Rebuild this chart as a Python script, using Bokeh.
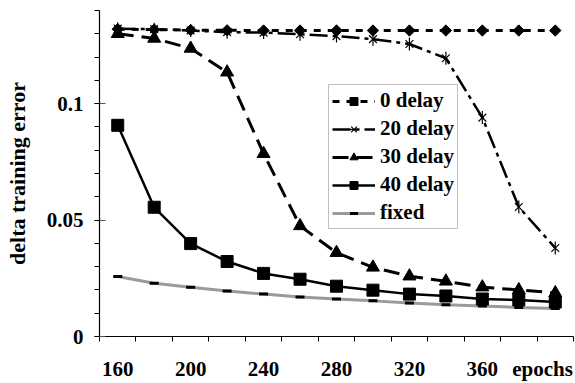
import math
from bokeh.plotting import figure
from bokeh.models import Legend, LegendItem, FixedTicker, Range1d
from bokeh.embed import file_html
from bokeh.resources import INLINE

epochs = [160, 180, 200, 220, 240, 260, 280, 300, 320, 340, 360, 380, 400]
delay0 = [0.132, 0.1318, 0.1316, 0.1315, 0.1314, 0.1314, 0.1314, 0.1314, 0.1314, 0.1314, 0.1314, 0.1314, 0.1314]
delay20 = [0.1322, 0.132, 0.1314, 0.1307, 0.1305, 0.1298, 0.129, 0.1277, 0.1256, 0.1195, 0.094, 0.0556, 0.038]
delay30 = [0.130, 0.128, 0.1237, 0.1135, 0.0785, 0.0475, 0.036, 0.0297, 0.0259, 0.0237, 0.0212, 0.020, 0.0187]
delay40 = [0.0907, 0.0555, 0.0399, 0.0322, 0.0271, 0.0246, 0.0216, 0.0199, 0.0182, 0.0174, 0.0161, 0.0157, 0.0148]
fixed = [0.0258, 0.0229, 0.0212, 0.0195, 0.0182, 0.017, 0.0161, 0.0153, 0.0144, 0.0136, 0.0131, 0.0125, 0.012]

x_label_ticks = [160, 200, 240, 280, 320, 360]
x_title_pos = 393
x_title = "epochs"
x_boundaries = [150 + 20 * i for i in range(14)]
y_label_ticks = [0, 0.05, 0.1]
y_minor = [round(0.01 * i, 2) for i in range(15)]

FONT = "Liberation Serif"

p = figure(width=575, height=383, x_range=Range1d(150, 410), y_range=Range1d(0, 0.14),
           output_backend="svg", toolbar_location=None,
           min_border_left=99, min_border_top=10, min_border_bottom=43, min_border_right=2)
p.outline_line_color = None
p.xgrid.visible = False
p.ygrid.visible = False
p.background_fill_color = "white"

# x axis
xa = p.xaxis[0]
xa.ticker = FixedTicker(ticks=x_label_ticks + [x_title_pos], minor_ticks=x_boundaries)
xa.major_label_overrides = {x_title_pos: x_title}
xa.major_tick_in = 0
xa.major_tick_out = 0
xa.minor_tick_in = 0
xa.minor_tick_out = 5
xa.minor_tick_line_color = "black"
xa.axis_line_color = "black"
xa.axis_line_width = 1.2
xa.major_label_standoff = 15
xa.major_label_text_font = FONT
xa.major_label_text_font_style = "bold"
xa.major_label_text_font_size = "21px"
xa.major_label_text_color = "black"

# y axis
ya = p.yaxis[0]
ya.ticker = FixedTicker(ticks=y_label_ticks, minor_ticks=y_minor)
ya.major_tick_in = 6
ya.major_tick_out = 5
ya.major_tick_line_color = "#555555"
ya.minor_tick_in = 0
ya.minor_tick_out = 5
ya.minor_tick_line_color = "black"
ya.axis_line_color = "black"
ya.axis_line_width = 1.2
ya.major_label_standoff = 11
ya.major_label_text_font = FONT
ya.major_label_text_font_style = "bold"
ya.major_label_text_font_size = "21px"
ya.major_label_text_color = "black"
ya.major_label_overrides = {0: "0", 0.05: "0.05", 0.1: "0.1"}
ya.axis_label = "delta training error"
ya.axis_label_text_font = FONT
ya.axis_label_text_font_style = "bold"
ya.axis_label_text_font_size = "22px"
ya.axis_label_text_color = "black"
ya.axis_label_standoff = 14

# series
l_fixed = p.line(epochs, fixed, line_color="#9a9a9a", line_width=3)
m_fixed = p.scatter(epochs, fixed, marker="dash", size=9, line_color="black", line_width=3)

l40 = p.line(epochs, delay40, line_color="black", line_width=2.5)
m40 = p.scatter(epochs, delay40, marker="square", size=12, color="black")

l30 = p.line(epochs, delay30, line_color="black", line_width=3, line_dash="16 8")
m30 = p.scatter(epochs, delay30, marker="triangle", size=13, color="black")

l20 = p.line(epochs, delay20, line_color="black", line_width=2.5, line_dash="18 5 4 5")
m20x = p.scatter(epochs, delay20, marker="x", size=11, line_color="black", line_width=1.2)
m20v = p.scatter(epochs, delay20, marker="dash", angle=math.pi / 2, size=13,
                 line_color="black", line_width=1.2)

l0 = p.line(epochs, delay0, line_color="black", line_width=3, line_dash="7 7")
m0 = p.scatter(epochs, delay0, marker="square", angle=math.pi / 4, size=8, color="black")

legend = Legend(items=[
    LegendItem(label="0 delay", renderers=[l0, m0]),
    LegendItem(label="20 delay", renderers=[l20, m20x, m20v]),
    LegendItem(label="30 delay", renderers=[l30, m30]),
    LegendItem(label="40 delay", renderers=[l40, m40]),
    LegendItem(label="fixed", renderers=[l_fixed, m_fixed]),
], location=(229, 107))
legend.border_line_color = "#808080"
legend.border_line_width = 1
legend.background_fill_color = "white"
legend.background_fill_alpha = 1
legend.label_text_font = FONT
legend.label_text_font_style = "bold"
legend.label_text_font_size = "21px"
legend.label_text_color = "black"
legend.glyph_width = 43
legend.glyph_height = 20
legend.label_height = 20
legend.spacing = 3
legend.padding = 3
legend.margin = 0
legend.label_standoff = 5
p.add_layout(legend, "center")

open("out.html", "w").write(file_html(p, INLINE))
